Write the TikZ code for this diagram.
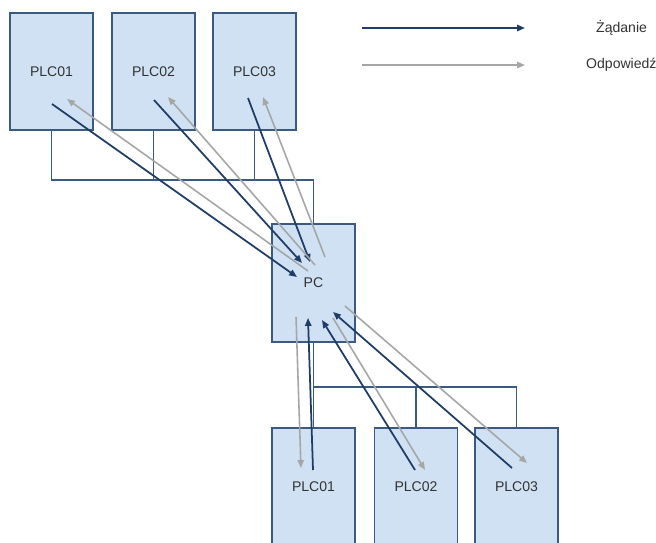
\documentclass[tikz,border=0pt]{standalone}
\usepackage{fontspec}
\setmainfont{Liberation Sans}
\usetikzlibrary{arrows.meta,calc}
\definecolor{boxfill}{HTML}{CFE1F3}
\definecolor{boxline}{HTML}{3A5A82}
\definecolor{navy}{HTML}{1F3D66}
\definecolor{greyarr}{HTML}{A6A6A6}
\definecolor{txt}{HTML}{333333}
\begin{document}
\begin{tikzpicture}[x=0.02cm,y=-0.02cm,
  plcbox/.style={draw=boxline,fill=boxfill,line width=0.85pt,minimum width=1.66cm,minimum height=2.34cm,inner sep=0pt,text=txt,font=\fontsize{8}{9}\selectfont},
  bus/.style={draw=boxline,line width=0.85pt},
  req/.style={draw=navy,line width=1pt,-{Triangle[length=4.5pt,width=3.6pt]}},
  resp/.style={draw=greyarr,line width=0.9pt,-{Triangle[length=4.5pt,width=3.6pt]}},
  legtxt/.style={text=txt,font=\fontsize{8}{9}\selectfont}]
\useasboundingbox (0,0) rectangle (656,542);
\fill[white] (0,0) rectangle (656,542);
% top PLCs
\node[plcbox] (t1) at (51.5,71.5) {PLC01};
\node[plcbox] (t2) at (153.5,71.5) {PLC02};
\node[plcbox] (t3) at (254.5,71.5) {PLC03};
% PC
\node[plcbox,minimum height=2.36cm] (pc) at (313.5,283) {PC};
% bottom PLCs
\node[plcbox] (b1) at (313.5,486.5) {PLC01};
\node[plcbox] (b2) at (416,486.5) {PLC02};
\node[plcbox] (b3) at (516.5,486.5) {PLC03};
% buses
\coordinate (busT) at (0,180);
\coordinate (busB) at (0,387);
\draw[bus] (t1.south) |- (busT -| pc.north) -- (pc.north);
\draw[bus] (t2.south) -- (t2.south |- busT);
\draw[bus] (t3.south) -- (t3.south |- busT);
\draw[bus] (pc.south) -- (b1.north);
\draw[bus] (pc.south |- busB) -| (b3.north);
\draw[bus] (b2.north) -- (b2.north |- busB);
% top arrows
\draw[req] ($(t1)+(0.5,32.5)$) -- ($(pc)+(-16.5,-6)$);
\draw[req] ($(t2)+(0.5,28.5)$) -- ($(pc)+(-11.5,-20)$);
\draw[req] ($(t3)+(-6.5,26.5)$) -- ($(pc)+(-3.5,-21)$);
\draw[resp] ($(pc)+(-5.5,-12)$) -- ($(t1)+(15.5,27.5)$);
\draw[resp] ($(pc)+(1.5,-18)$) -- ($(t2)+(14.5,25.5)$);
\draw[resp] ($(pc)+(11.5,-26)$) -- ($(t3)+(8.5,25.5)$);
% bottom arrows
\draw[resp] ($(pc)+(-17.5,34)$) -- ($(b1)+(-12.5,-18.5)$);
\draw[req] ($(b1)+(-0.5,-16.5)$) -- ($(pc)+(-5.5,35)$);
\draw[req] ($(b2)+(-1,-16.5)$) -- ($(pc)+(8.5,37)$);
\draw[resp] ($(pc)+(19.5,35)$) -- ($(b2)+(9,-16.5)$);
\draw[req] ($(b3)+(-4.5,-18.5)$) -- ($(pc)+(19.5,29)$);
\draw[resp] ($(pc)+(31.5,23)$) -- ($(b3)+(10.5,-23.5)$);
% legend
\coordinate (l1a) at (362,28);
\coordinate (l1b) at (525,28);
\coordinate (l2a) at (362,65);
\coordinate (l2b) at (525,65);
\draw[req] (l1a) -- (l1b);
\draw[resp] (l2a) -- (l2b);
\node[legtxt,anchor=west] (lt1) at (590,28) {Żądanie};
\node[legtxt,anchor=west] (lt2) at (580,65) {Odpowiedź};
\end{tikzpicture}
\end{document}
